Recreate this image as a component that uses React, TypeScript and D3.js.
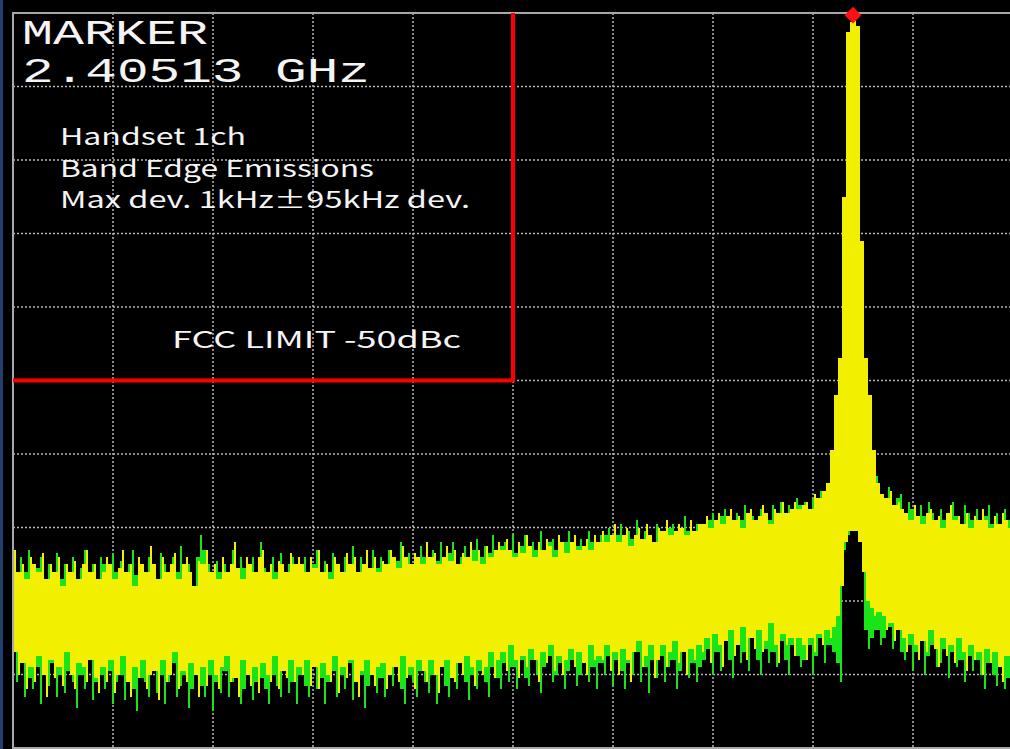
import React from "react";
import * as d3 from "d3";

// spectrum analyzer screen: 10 x 10 divisions, 10 dB/div, ref = carrier (0 dBc)
const markerLabel = "MARKER";
const markerFreq = "2.40513 GHz";
const noteLines = ["Handset 1ch", "Band Edge Emissions", "Max dev. 1kHz\u00B195kHz dev."];
const limitLabel = "FCC LIMIT -50dBc";
const limitDb = -50;
const limitEndDiv = 5; // limit applies to the left half of the span

// trace A (yellow), one column per 1/25 division: top and bottom of each column, dBc
const yellowHi = [
  -73, -76, -75, -77, -74, -75, -76, -73.5, -77, -75, -76, -74, -78, -75, -76, -74.5, -77, -75, -73, -76, -75, -77,
  -76, -74, -75, -77, -75.5, -73, -76, -75, -78, -74,
  -75, -76, -72.5, -75, -77, -74, -76, -75, -73.5, -77,
  -75, -74, -76, -78, -74.5, -75, -73, -76, -75, -77,
  -74, -76, -75, -72, -75.5, -77, -74, -75, -76, -74,
  -73, -76, -75, -77, -74.5, -75, -76, -73.5, -75, -74,
  -75, -76, -74, -75.5, -73, -76, -75, -77, -74, -75,
  -76, -73.5, -75, -74, -76, -75, -73, -75.5, -74, -76,
  -74.5, -75, -73, -74, -75.5, -72.5, -74, -75, -73.5, -74,
  -75, -72, -74, -73.5, -75, -74, -72.5, -74.5, -73, -75,
  -73.5, -74, -72, -74.5, -73, -75, -72.5, -74, -73, -72,
  -73, -71.5, -73, -74, -72, -73.5, -71, -72.5, -74, -72,
  -73, -71.5, -72.5, -74, -71, -72, -73.5, -72, -71, -73,
  -72.5, -71.5, -73, -71, -72,
  -70.5, -72, -71, -69.5, -72, -71, -70, -72.5, -71, -70,
  -71.5, -69.5, -71, -72, -70, -70.5, -69, -71, -70.5, -69.5,
  -70, -71, -69, -70.5, -69.5,
  -69.5, -68.5, -70, -69, -68, -69.5, -68.5, -67.5, -69, -68.5,
  -70, -68, -67.5, -69, -68.5, -67, -68, -69.5, -67.5, -68,
  -66.5, -68, -67.5, -66.5, -67.5,
  -67, -66.5, -67.5, -65.5, -66, -65, -64, -59.5, -52, -47,
  -25, -2.6, -1.2, -0.9, -1.8, -31, -47, -52, -59.5, -64,
  -65.5, -66, -65, -67, -66.5,
  -67.5, -68, -69, -67, -68.5, -69.5, -68, -67.5, -69, -68.5,
  -70, -68, -67, -69, -68.5, -69.5, -68, -70, -68.5, -69,
  -67.5, -69, -70, -68.5, -69.5, -68, -69, -70,
];
const yellowLo = [
  -87, -90, -88.5, -92, -89, -91, -87.5, -90, -93, -88, -90.5, -89, -91.5, -87, -90, -92, -88.5, -89, -91, -88, -90.5, -92.5,
  -89, -91, -88, -92.5, -90, -87.5, -91, -93, -89, -90.5,
  -88, -92, -90, -89.5, -93.5, -88, -91, -90, -87, -92,
  -89.5, -91, -88.5, -90, -93, -89, -91.5, -88, -90, -92,
  -89, -87.5, -91, -90.5, -93, -88, -90, -91.5, -89, -92.5,
  -88.5, -90, -91, -87.5, -92, -89.5, -90.5, -88, -91, -89,
  -90, -88, -91.5, -89, -92, -88.5, -90, -91, -87.5, -92.5,
  -89, -90.5, -88, -91, -93, -89.5, -88, -90, -91.5, -89,
  -88.5, -92, -90, -89, -91, -87.5, -90.5, -89, -92, -88,
  -89.5, -91, -88, -90, -92.5, -89, -88, -90.5, -91, -88.5,
  -90, -87.5, -89, -91.5, -88, -90, -89, -87, -90.5, -88,
  -87, -89.5, -86, -88, -90.5, -87.5, -89, -86.5, -88, -91,
  -87, -88.5, -86, -89.5, -87.5, -90, -88, -86.5, -89, -87,
  -88.5, -90, -86, -88, -87.5,
  -88, -86, -89.5, -87, -90, -86.5, -88, -91, -87, -85.5,
  -89, -87.5, -86, -90.5, -88, -86, -89, -87, -85.5, -88.5,
  -87, -90, -86.5, -88, -86,
  -87, -85, -88.5, -84.5, -86, -89, -85.5, -84, -87.5, -86,
  -83.5, -88, -85, -86.5, -84, -87, -85.5, -83, -86, -88.5,
  -84.5, -86, -85, -87.5, -85,
  -86, -88, -85, -87, -84.5, -86, -84, -85, -83.5, -82,
  -78, -72, -70.5, -70.5, -72, -76, -80, -81, -82, -81.5,
  -82, -84, -83, -85.5, -84,
  -85, -87, -84.5, -86, -88, -85.5, -87, -84, -86.5, -89,
  -85, -87.5, -86, -88.5, -85, -87, -89.5, -86, -88, -87,
  -90, -86.5, -88.5, -87, -89, -91, -87.5, -89,
];

// trace B (green), sampled half a column later
const greenHi = [
  -77.5, -74, -76, -73, -77, -75.5, -74, -78, -75, -76.5, -73.5, -77, -75, -76, -74, -78, -75.5, -73, -76.5, -75, -77, -74,
  -75, -77, -73.5, -76, -74.5, -78, -75, -73, -76.5, -75,
  -77, -74, -76, -78.5, -73.5, -75, -77, -74, -76, -72.5,
  -76, -75, -78, -74, -71, -73, -75, -77, -74.5, -76,
  -75, -77.5, -73, -76, -74, -75.5, -78, -74, -76, -72,
  -75.5, -77, -74, -76, -73.5, -77, -75, -74, -76.5, -75,
  -74, -76.5, -75, -73, -77, -74.5, -76, -73.5, -75, -77,
  -74, -75.5, -72.5, -76, -74, -75, -77, -73, -75.5, -74,
  -76, -73, -75, -74.5, -72, -76, -73.5, -75, -74, -72.5,
  -74, -75.5, -73, -74.5, -72, -75, -73.5, -72, -75, -74,
  -72.5, -75, -73, -71.5, -74, -72.5, -73.5, -71, -73, -72.5,
  -72, -74, -71, -73.5, -72.5, -71, -74, -72, -73, -70.5,
  -73.5, -72, -71.5, -73, -74.5, -72, -70.5, -73, -72.5, -71.5,
  -73, -70.5, -72, -73.5, -71,
  -71, -70, -72.5, -71, -69.5, -73, -70.5, -71.5, -69, -72,
  -70.5, -71, -73, -69.5, -71, -72, -70, -69.5, -71.5, -70,
  -68.5, -70.5, -71, -69.5, -70,
  -70, -69, -68, -70.5, -68.5, -67.5, -69.5, -70, -68, -69,
  -67, -69.5, -68.5, -70, -67.5, -68.5, -69, -67, -68.5, -66.5,
  -68, -67, -68.5, -66, -67,
  -66.5, -68, -66, -67, -65, -66.5, -65, -61, -55, -52,
  -40, -20, -0.3, -18, -40, -53, -55, -60, -63, -65.5,
  -66, -64.5, -67, -66, -65.5,
  -68, -66.5, -67.5, -69, -67, -68.5, -66.5, -68, -70, -67.5,
  -69, -68, -66.5, -68.5, -69.5, -67, -68, -69, -67.5, -70,
  -68.5, -67, -69.5, -68, -70, -67.5, -69, -68.5,
];
const greenLo = [
  -91, -88, -93, -90.5, -92, -89, -94, -90, -91.5, -88.5, -93, -90, -92.5, -89.5, -91, -94.5, -90, -92, -88, -93.5, -91, -90,
  -92, -89.5, -94, -91, -90, -93.5, -89, -92, -95, -90.5,
  -91, -93, -89.5, -92.5, -90, -94, -91, -88.5, -93, -91.5,
  -90, -94.5, -92, -89, -91.5, -93, -90, -95, -91, -92.5,
  -89.5, -93, -91, -90, -94, -92, -89, -93.5, -91, -90.5,
  -92, -94, -90, -91.5, -93, -89, -92.5, -91, -94, -90,
  -91.5, -93, -89, -92, -90.5, -94, -91, -89.5, -93, -90,
  -92, -88.5, -93.5, -91, -90, -94.5, -91.5, -89, -92.5, -90.5,
  -93, -90, -91.5, -88.5, -92, -94, -90, -91, -93, -89.5,
  -91, -92.5, -90, -94, -89, -91.5, -93, -90, -92, -88.5,
  -91, -93.5, -90, -92, -89.5, -91, -93, -89, -90.5, -92,
  -88.5, -91, -89, -92, -88, -90.5, -91.5, -88, -90, -92.5,
  -89, -87.5, -91, -90, -88.5, -92, -89.5, -88, -91.5, -90,
  -87.5, -91, -89, -92, -88.5,
  -90, -87.5, -91.5, -88, -89.5, -92, -88.5, -90, -87, -91,
  -89, -92.5, -88, -90.5, -87.5, -91, -89, -88, -92, -89.5,
  -87, -90.5, -88.5, -91, -89,
  -88, -86.5, -90, -87, -89.5, -85.5, -88, -90.5, -86, -88.5,
  -87, -89.5, -85, -88, -90, -86.5, -88.5, -87, -89, -85.5,
  -88, -90, -86, -87.5, -89,
  -88, -86, -90, -87.5, -85, -88.5, -86, -87, -88.5, -91,
  -73, -71, -70, -70.5, -72, -84, -86.5, -85, -84, -86,
  -85, -83.5, -86.5, -84, -87,
  -88, -86, -89.5, -87, -85.5, -90, -87.5, -86, -89, -88.5,
  -86.5, -90.5, -87, -89, -88, -91, -87.5, -89.5, -88, -90,
  -92, -88.5, -90, -91.5, -89, -92, -90.5, -91,
];

const W = 1010;
const H = 749;
const plot = { left: 13, top: 13, right: 1012, bottom: 748 };
const N = yellowHi.length;

const xScale = d3.scaleLinear().domain([0, N]).range([plot.left, plot.left + 1000]);
const yScale = d3.scaleLinear().domain([-100, 0]).range([plot.bottom, plot.top]);

// each column is a thin vertical bar; neighbouring columns are joined where their ranges overlap
function tracePath(hi: number[], lo: number[], offset: number, barW: number) {
  const p = d3.path();
  const cx = (i: number) => xScale(i + offset);
  for (let i = 0; i < hi.length; i++) {
    const y0 = yScale(hi[i]);
    const y1 = yScale(lo[i]);
    p.rect(cx(i) - barW / 2, y0, barW, y1 - y0);
    if (i < hi.length - 1) {
      const top = Math.min(hi[i], hi[i + 1]);
      const bot = Math.max(lo[i], lo[i + 1]);
      if (top > bot) {
        p.rect(cx(i), yScale(top), cx(i + 1) - cx(i), yScale(bot) - yScale(top));
      }
    }
  }
  return p.toString();
}

export default function App() {
  const divX = d3.range(1, 10).map((d) => xScale((d * N) / 10));
  const divY = yScale.ticks(10).filter((d) => d > -100 && d < 0);

  const peakIdx = d3.maxIndex(greenHi);
  const mx = xScale(peakIdx + 1);
  const my = yScale(greenHi[peakIdx]);

  const limitX = xScale((limitEndDiv * N) / 10);
  const limitY = yScale(limitDb);

  return (
    <svg
      width={W}
      height={H}
      style={{ position: "absolute", left: 0, top: 0, background: "#000" }}
    >
      <defs>
        <clipPath id="plotClip">
          <rect x={plot.left} y={plot.top} width={plot.right - plot.left} height={plot.bottom - plot.top} />
        </clipPath>
      </defs>
      <rect x={0} y={0} width={W} height={H} fill="#000" />
      <rect x={0} y={0} width={3} height={H} fill="#22406c" />

      {/* grid */}
      <g stroke="#b8b8b8" strokeWidth={1.5} strokeDasharray="2,2">
        {divX.map((x, i) => (
          <line key={"gx" + i} x1={x} x2={x} y1={plot.top} y2={plot.bottom} />
        ))}
        {divY.map((d) => (
          <line key={"gy" + d} x1={plot.left} x2={plot.right} y1={yScale(d)} y2={yScale(d)} />
        ))}
      </g>
      <rect
        x={plot.left}
        y={plot.top}
        width={plot.right - plot.left}
        height={plot.bottom - plot.top}
        fill="none"
        stroke="#a8a8a8"
        strokeWidth={2}
      />

      {/* traces */}
      <g clipPath="url(#plotClip)" shapeRendering="crispEdges">
        <path d={tracePath(greenHi, greenLo, 1, 2)} fill="#18e418" />
        <path d={tracePath(yellowHi, yellowLo, 0.5, 2)} fill="#f2f000" />
      </g>

      {/* limit line */}
      <path
        d={`M${plot.left},${limitY}H${limitX}V${plot.top}`}
        fill="none"
        stroke="#ff0000"
        strokeWidth={4}
      />

      {/* marker */}
      <path
        d={d3.symbol(d3.symbolSquare, 140)() as string}
        transform={`translate(${mx},${my}) rotate(45)`}
        fill="#ff1010"
      />

      {/* readout */}
      <g fill="#f4f4f4" fontFamily="'Liberation Mono', 'DejaVu Sans Mono', monospace" fontSize={35}>
        <text x={22} y={44} textLength={186} lengthAdjust="spacingAndGlyphs">
          {markerLabel}
        </text>
        <text x={22} y={82} textLength={348} lengthAdjust="spacingAndGlyphs">
          {markerFreq}
        </text>
      </g>
      <g fill="#f4f4f4" fontFamily="'Noto Sans CJK JP', 'DejaVu Sans', sans-serif" fontSize={23}>
        {noteLines.map((t, i) => (
          <text
            key={t}
            x={60}
            y={145 + i * 31.5}
            textLength={[186, 314, 410][i]}
            lengthAdjust="spacingAndGlyphs"
          >
            {t}
          </text>
        ))}
        <text x={172} y={348} textLength={289} lengthAdjust="spacingAndGlyphs">
          {limitLabel}
        </text>
      </g>
    </svg>
  );
}
